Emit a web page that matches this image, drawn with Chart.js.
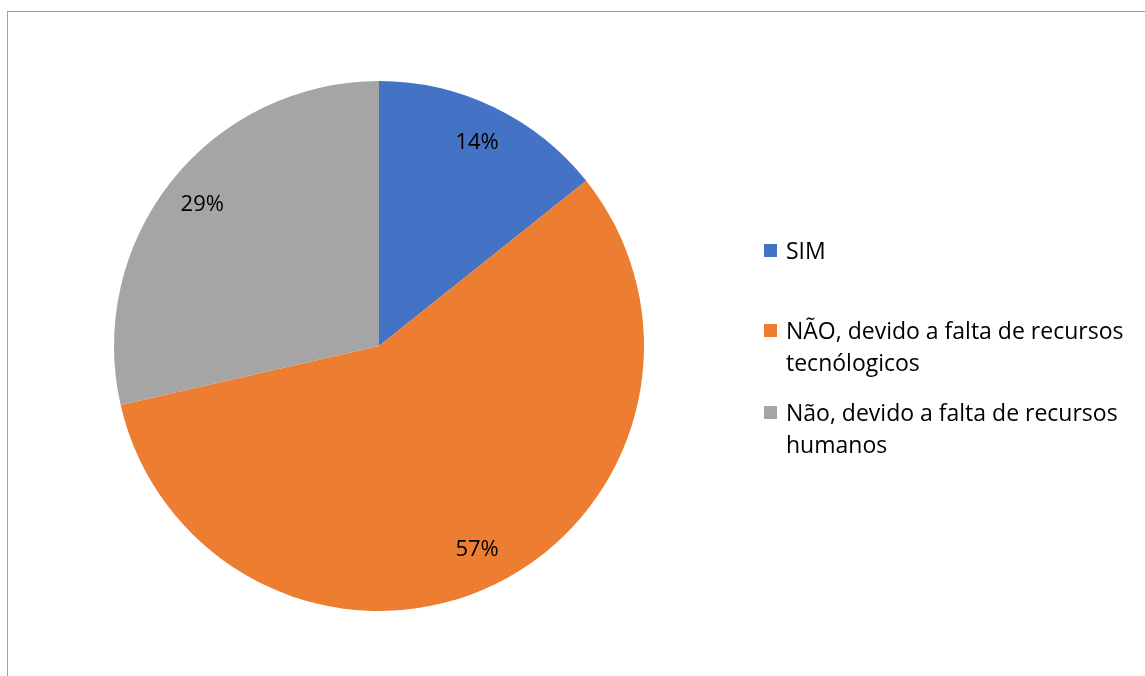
<!DOCTYPE html>
<html>
<head>
<meta charset="utf-8">
<script src="https://cdn.jsdelivr.net/npm/chart.js@4"></script>
<style>
  body { margin: 0; background: #fff; }
  #wrap { position: relative; width: 1145px; height: 676px; overflow: hidden; }
  #frame { position: absolute; left: 7px; top: 11px; width: 1200px; height: 700px; border: 1px solid #a0a0a0; }
  #pie { position: absolute; left: 0; top: 0; }
  #legend { position: absolute; left: 764px; top: 234px; font-family: "Open Sans", sans-serif; font-size: 23px; color: #000; line-height: 32px; white-space: nowrap; }
  .item { position: relative; padding-left: 22px; margin-bottom: 18px; }
  .box { position: absolute; left: 0; top: 10px; width: 13px; height: 13px; }
</style>
</head>
<body>
<div id="wrap">
  <div id="frame"></div>
  <canvas id="pie" width="1145" height="676"></canvas>
  <div id="legend"></div>
</div>
<script>
// categories and values
const categories = [`SIM`, `NÃO, devido a falta de recursos tecnólogicos`, `Não, devido a falta de recursos humanos`]
const legendLines = [[`SIM`], [`NÃO, devido a falta de recursos`, `tecnólogicos`], [`Não, devido a falta de recursos`, `humanos`]]
const values = [1, 4, 2]
const percentLabels = [`14%`, `57%`, `29%`]
const colors = [`#4472c4`, `#ed7d31`, `#a5a5a5`]

// draw % labels inside slices
const sliceLabels = {
  id: `sliceLabels`,
  afterDatasetsDraw(chart) {
    const ctx = chart.ctx
    ctx.save()
    ctx.font = `22px "Open Sans", sans-serif`
    ctx.fillStyle = `#000`
    ctx.textAlign = `center`
    ctx.textBaseline = `middle`
    chart.getDatasetMeta(0).data.forEach((arc, i) => {
      const p = arc.getProps([`x`, `y`, `startAngle`, `endAngle`, `outerRadius`])
      const mid = (p.startAngle + p.endAngle) / 2
      const r = p.outerRadius * 0.853
      ctx.fillText(percentLabels[i], p.x + Math.cos(mid) * r, p.y + Math.sin(mid) * r)
    })
    ctx.restore()
  }
}

new Chart(document.querySelector(`#pie`).getContext(`2d`), {
  type: `pie`,
  data: {
    labels: categories,
    datasets: [{ data: values, backgroundColor: colors, borderWidth: 0 }]
  },
  options: {
    responsive: false,
    animation: false,
    layout: { padding: { top: 81, bottom: 65, left: 114, right: 501 } },
    plugins: { legend: { display: false }, tooltip: { enabled: false } }
  },
  plugins: [sliceLabels]
})

// legend
const legend = document.querySelector(`#legend`)
legendLines.forEach((lines, i) => {
  const item = document.createElement(`div`)
  item.className = `item`
  item.innerHTML = `<span class="box" style="background:${colors[i]}"></span>` + lines.join(`<br>`)
  if (i == 0) item.style.marginBottom = `48px`
  legend.appendChild(item)
})
</script>
</body>
</html>
